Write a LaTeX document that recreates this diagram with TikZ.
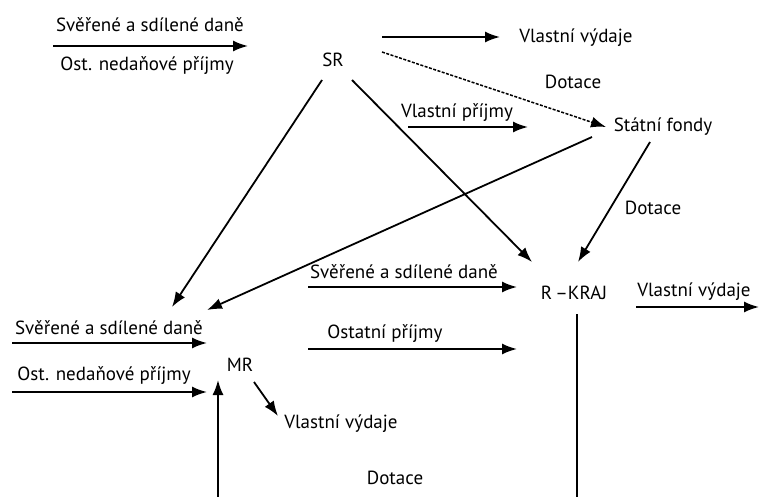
\documentclass[tikz,border=0pt]{standalone}
\usepackage{fontspec}
\setmainfont{PT Sans}
\usetikzlibrary{arrows.meta}

\begin{document}
\begin{tikzpicture}[x=1pt,y=-1pt,>={Latex[length=15pt,width=11pt]},line width=1.8pt,
    every node/.style={font=\fontsize{19}{22}\selectfont,inner sep=1pt}]
    \useasboundingbox (0,0) rectangle (759,497);

    % hlavni uzly
    \node (SR) at (333,60)  {SR};
    \node (SF) at (663,127) {Státní fondy};
    \node (RK) at (574,293) {R\,--KRAJ};
    \node (MR) at (240,365) {MR};

    % popisky
    \node (t1)  at (150,25)  {Svěřené a sdílené daně};
    \node (t2)  at (147,66)  {Ost. nedaňové příjmy};
    \node (t3)  at (576,38)  {Vlastní výdaje};
    \node (t4)  at (573,82)  {Dotace};
    \node (t5)  at (457,113) {Vlastní příjmy};
    \node (t6)  at (653,208) {Dotace};
    \node (t7)  at (404,272) {Svěřené a sdílené daně};
    \node (t8)  at (694,292) {Vlastní výdaje};
    \node (t9)  at (385,334) {Ostatní příjmy};
    \node (t10) at (109,328) {Svěřené a sdílené daně};
    \node (t11) at (104,376) {Ost. nedaňové příjmy};
    \node (t12) at (341,424) {Vlastní výdaje};
    \node (t13) at (395,478) {Dotace};

    % konce spojnic
    \coordinate (srA) at (382,37);   \coordinate (srB) at (500,37);
    \coordinate (srC) at (382,52);   \coordinate (sfW) at (606,127);
    \coordinate (srL) at (322,80);   \coordinate (mrA) at (172,307);
    \coordinate (srR) at (352,80);   \coordinate (rkA) at (532,262);
    \coordinate (sfL) at (592,137);  \coordinate (mrB) at (207,310);
    \coordinate (sfR) at (650,142);  \coordinate (rkB) at (578,262);
    \coordinate (rkS) at (577,314);  \coordinate (rkE) at (577,497);
    \coordinate (mrS) at (218,497);  \coordinate (mrN) at (218,380);
    \coordinate (mrC) at (254,382);  \coordinate (mrD) at (278,416);

    \draw[->] (53,46) -- (248,46);
    \draw[->] (srA) -- (srB);
    \draw[->,dash pattern=on 3pt off 1.5pt,line width=1.5pt] (srC) -- (sfW);
    \draw[->] (408,127) -- (528,127);
    \draw[->] (srL) -- (mrA);
    \draw[->] (srR) -- (rkA);
    \draw[->] (sfL) -- (mrB);
    \draw[->] (sfR) -- (rkB);
    \draw[->] (308,287) -- (517,287);
    \draw[->] (636,307) -- (759,307);
    \draw[->] (308,349) -- (517,349);
    \draw (rkS) -- (rkE);
    \draw[->] (12,343) -- (207,343);
    \draw[->] (12,392) -- (207,392);
    \draw[->] (mrS) -- (mrN);
    \draw[->] (mrC) -- (mrD);
\end{tikzpicture}
\end{document}
